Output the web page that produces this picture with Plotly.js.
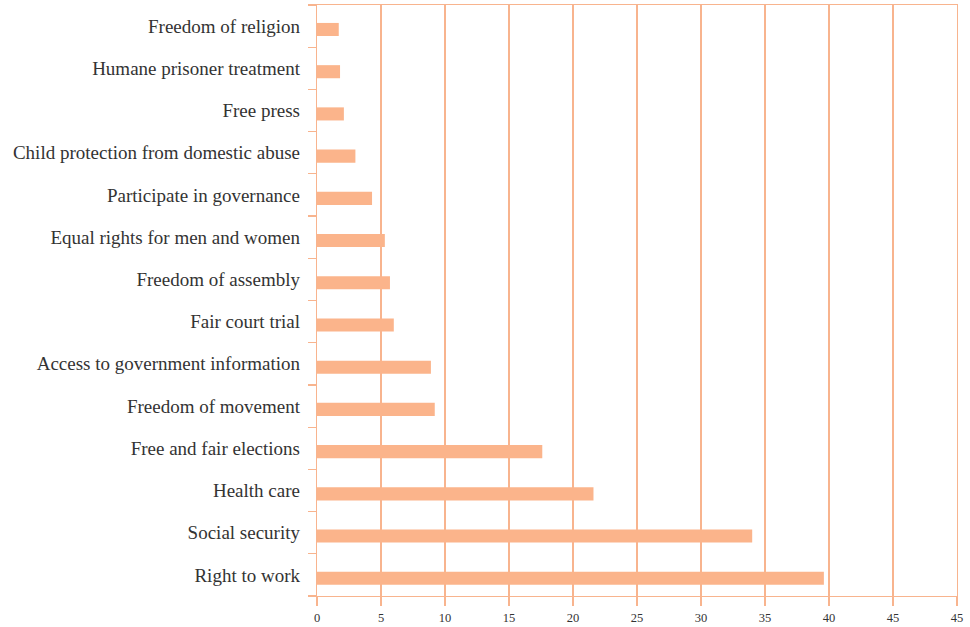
<!DOCTYPE html>
<html>
<head>
<meta charset="utf-8">
<script src="https://cdn.plot.ly/plotly-3.0.1.min.js"></script>
<style>html,body{margin:0;padding:0;background:#fff;}#chart{width:970px;height:627px;}</style>
</head>
<body>
<div id="chart"></div>
<script>
// Categories listed bottom to top
const categories = [
  "Right to work",
  "Social security",
  "Health care",
  "Free and fair elections",
  "Freedom of movement",
  "Access to government information",
  "Fair court trial",
  "Freedom of assembly",
  "Equal rights for men and women",
  "Participate in governance",
  "Child protection from domestic abuse",
  "Free press",
  "Humane prisoner treatment",
  "Freedom of religion"
];
const values = [39.6, 34.0, 21.6, 17.6, 9.2, 8.9, 6.0, 5.7, 5.3, 4.3, 3.0, 2.1, 1.8, 1.7];
const xTickVals = [0, 5, 10, 15, 20, 25, 30, 35, 40, 45, 50];
const xTickText = ["0", "5", "10", "15", "20", "25", "30", "35", "40", "45", "45"];

const lineColor = "rgb(248,180,142)";
const trace = {
  type: "bar",
  orientation: "h",
  y: categories,
  x: values,
  width: 0.31,
  offset: -0.235,
  marker: { color: "#fbb48b", line: { width: 0 } },
  hoverinfo: "x+y"
};

const layout = {
  width: 970,
  height: 627,
  margin: { l: 317, r: 13, t: 5, b: 31 },
  paper_bgcolor: "#ffffff",
  plot_bgcolor: "#ffffff",
  showlegend: false,
  font: { family: "Liberation Serif, Times New Roman, serif", color: "#333333" },
  xaxis: {
    range: [0, 50],
    tickmode: "array",
    tickvals: xTickVals,
    ticktext: xTickText,
    showgrid: true,
    gridcolor: lineColor,
    gridwidth: 1.2,
    zeroline: false,
    showline: true,
    linecolor: lineColor,
    linewidth: 1.2,
    mirror: true,
    ticks: "outside",
    ticklen: 9,
    tickwidth: 1.2,
    tickcolor: lineColor,
    ticklabelstandoff: 1,
    tickfont: { size: 12.5, color: "#333333", family: "Liberation Serif, serif" }
  },
  yaxis: {
    type: "category",
    range: [-0.5, 13.5],
    showgrid: false,
    zeroline: false,
    showline: true,
    linecolor: lineColor,
    linewidth: 1.2,
    mirror: true,
    ticks: "outside",
    tickson: "boundaries",
    ticklen: 8,
    tickwidth: 1.2,
    tickcolor: lineColor,
    ticklabelstandoff: 12,
    tickfont: { size: 19, color: "#333333", family: "Liberation Serif, serif" }
  }
};

Plotly.newPlot("chart", [trace], layout, { displayModeBar: false, staticPlot: true });
</script>
</body>
</html>
